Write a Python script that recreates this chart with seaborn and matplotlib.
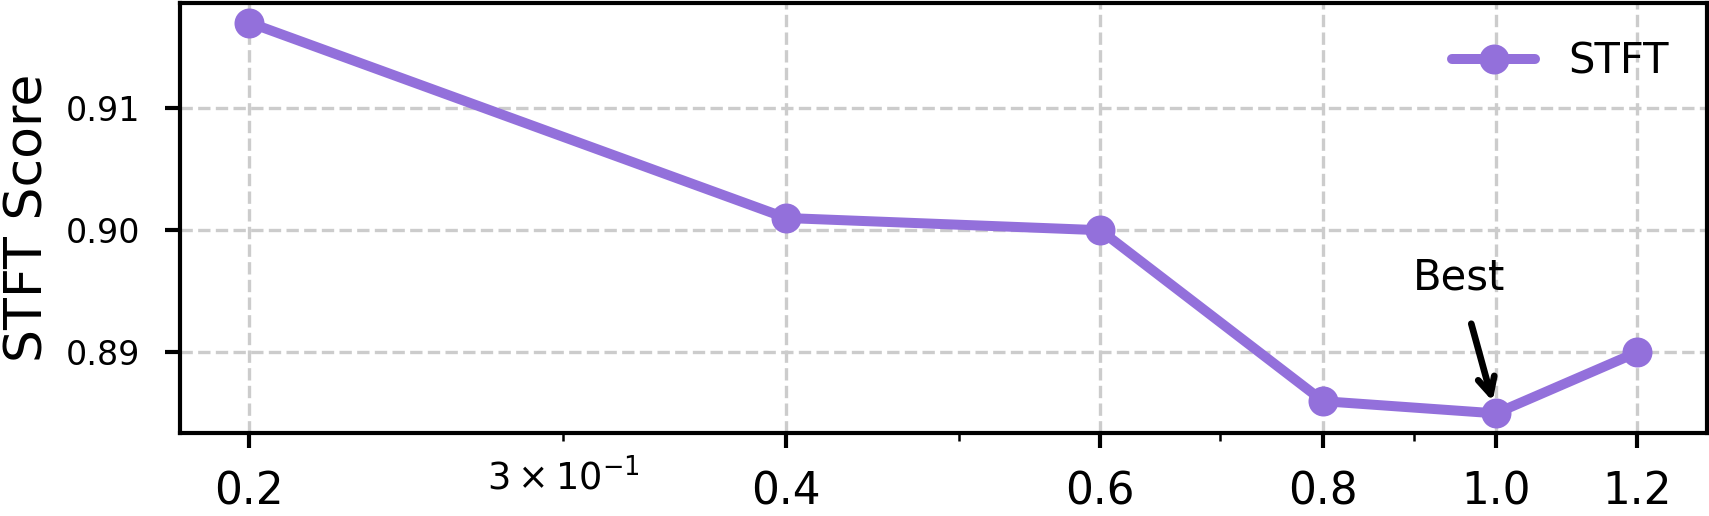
import numpy as np
import pandas as pd
import seaborn as sns
import matplotlib.pyplot as plt

# 데이터
ratios = [0.2, 0.4, 0.6, 0.8, 1.0, 1.2]
stft_scores = [0.917, 0.901, 0.900, 0.886, 0.885, 0.890]
tick_labels = ['0.2', '0.4', '0.6', '0.8', '1.0', '1.2']

df = pd.DataFrame({'ratio': ratios, 'STFT': stft_scores})

sns.set_style('ticks')
plt.rcParams['font.family'] = ['DejaVu Sans']
plt.rcParams['text.color'] = 'black'
plt.rcParams['axes.labelcolor'] = 'black'
plt.rcParams['xtick.color'] = 'black'
plt.rcParams['ytick.color'] = 'black'

fig, ax = plt.subplots(figsize=(5.697, 1.72), dpi=300)

sns.lineplot(data=df, x='ratio', y='STFT', ax=ax, color='#9370DB',
             marker='o', markersize=7.2, markeredgewidth=0, linewidth=2.4,
             label='STFT')

ax.set_xscale('log')
ax.set_xticks(ratios)
ax.set_xticklabels(tick_labels, fontsize=10.5)
ax.tick_params(axis='x', which='minor', labelsize=8.8, pad=4)
ax.tick_params(axis='x', which='major', pad=5.5)
ax.tick_params(axis='y', labelsize=8, pad=6)
ax.tick_params(which='major', length=3.5, width=1.0)
ax.set_xlabel('')
ax.set_ylabel('STFT Score', fontsize=12.5, labelpad=3)
ax.set_yticks([0.89, 0.90, 0.91])

ax.grid(True, which='major', linestyle='--', color='#cccccc', linewidth=0.8)
for s in ax.spines.values():
    s.set_linewidth(1.0)
    s.set_color('black')

# Best 표시
ax.annotate('Best', xy=(1.0, 0.885), xytext=(0.953, 0.8961),
            ha='center', va='center', fontsize=10,
            arrowprops=dict(arrowstyle='->', lw=1.6, color='black',
                            shrinkA=4, shrinkB=3))

ax.legend(loc='upper right', frameon=False, fontsize=10)

fig.subplots_adjust(left=0.1053, right=0.9985, top=0.994, bottom=0.161)
plt.savefig('out.png', dpi=300)
